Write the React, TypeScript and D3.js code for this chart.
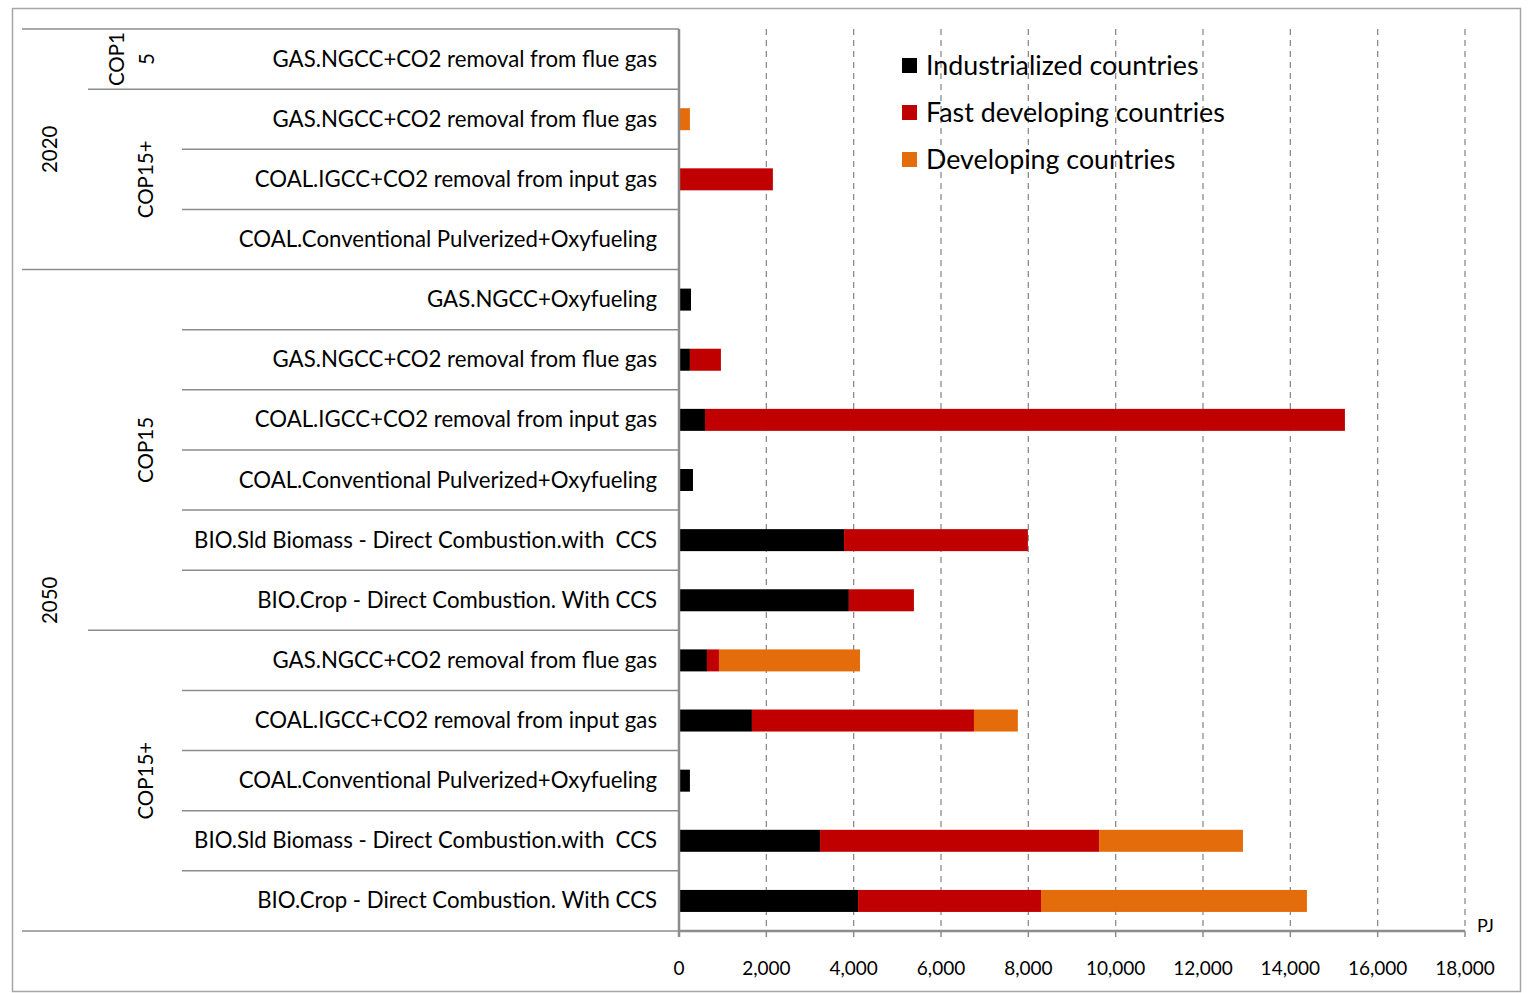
import React from "react";
import * as d3 from "d3";

const rowLabels = [
  "GAS.NGCC+CO2 removal from flue gas",
  "GAS.NGCC+CO2 removal from flue gas",
  "COAL.IGCC+CO2 removal from input gas",
  "COAL.Conventional Pulverized+Oxyfueling",
  "GAS.NGCC+Oxyfueling",
  "GAS.NGCC+CO2 removal from flue gas",
  "COAL.IGCC+CO2 removal from input gas",
  "COAL.Conventional Pulverized+Oxyfueling",
  "BIO.Sld Biomass - Direct Combustion.with  CCS",
  "BIO.Crop - Direct Combustion. With CCS",
  "GAS.NGCC+CO2 removal from flue gas",
  "COAL.IGCC+CO2 removal from input gas",
  "COAL.Conventional Pulverized+Oxyfueling",
  "BIO.Sld Biomass - Direct Combustion.with  CCS",
  "BIO.Crop - Direct Combustion. With CCS",
];
const industrialized = [0, 0, 0, 0, 275, 250, 595, 320, 3780, 3890, 640, 1670, 250, 3230, 4100];
const fastDeveloping = [0, 0, 2150, 0, 0, 710, 14655, 0, 4210, 1490, 275, 5085, 0, 6390, 4190];
const developing = [0, 250, 0, 0, 0, 0, 0, 0, 0, 0, 3230, 1005, 0, 3295, 6090];

const seriesNames = ["Industrialized countries", "Fast developing countries", "Developing countries"];
const seriesColors = ["#000000", "#C00000", "#E46C0A"];

// groups: [label, startRow, endRow(exclusive)]
const years: [string, number, number][] = [["2020", 0, 4], ["2050", 4, 15]];
const scenarios: [string[], number, number][] = [
  [["COP1", "5"], 0, 1],
  [["COP15+"], 1, 4],
  [["COP15"], 4, 10],
  [["COP15+"], 10, 15],
];
const xTicks = [0, 2000, 4000, 6000, 8000, 10000, 12000, 14000, 16000, 18000];

const FONT = "Lato, 'Open Sans', sans-serif";

export default function App() {
  const W = 1529, H = 993;
  const x0 = 679, x1 = 1465, yTop = 29, yBot = 931;
  const x = d3.scaleLinear().domain([0, 18000]).range([x0, x1]);
  const idx = d3.range(rowLabels.length);
  const y = d3.scaleBand<number>().domain(idx).range([yTop, yBot]).paddingInner(0).paddingOuter(0);
  const bw = y.bandwidth();
  const barH = 22;
  const data = idx.map((i) => ({ i, a: industrialized[i], b: fastDeveloping[i], c: developing[i] }));
  const stack = d3.stack<any>().keys(["a", "b", "c"])(data);
  const grey = "#8c8c8c";

  const yearStarts = new Set(years.map((g) => g[1]));
  const scenStarts = new Set(scenarios.map((g) => g[1]));
  const lines = d3.range(0, rowLabels.length + 1).map((r) => {
    let left = 182;
    if (r === 0 || r === rowLabels.length || yearStarts.has(r)) left = 22;
    else if (scenStarts.has(r)) left = 88;
    return { r, left };
  });

  return (
    <svg width={W} height={H} style={{ position: "absolute", left: 0, top: 0 }}>
      <rect x={0} y={0} width={W} height={H} fill="#fff" />
      <rect x={12.5} y={8.5} width={1508} height={983} fill="none" stroke="#a6a6a6" strokeWidth={1.5} />
      {xTicks.slice(1).map((t) => (
        <line key={t} x1={x(t)} x2={x(t)} y1={yTop} y2={yBot} stroke="#8c8c8c" strokeWidth={1.3} strokeDasharray="6,5" />
      ))}
      {lines.map(({ r, left }) => {
        const yy = r === rowLabels.length ? yBot : (y(r) as number);
        return <line key={r} x1={left} x2={x0} y1={yy} y2={yy} stroke={grey} strokeWidth={1.5} />;
      })}
      {stack.map((s, si) =>
        s.map((d, j) =>
          d[1] - d[0] > 0 ? (
            <rect
              key={si + "-" + j}
              x={x(d[0])}
              y={(y(j) as number) + bw / 2 - barH / 2}
              width={x(d[1]) - x(d[0])}
              height={barH}
              fill={seriesColors[si]}
            />
          ) : null
        )
      )}
      <line x1={x0} x2={x1} y1={yBot} y2={yBot} stroke={grey} strokeWidth={2.5} />
      <line x1={x0} x2={x0} y1={yTop} y2={yBot + 6} stroke={grey} strokeWidth={2.5} />
      {xTicks.map((t) => (
        <g key={"t" + t}>
          <line x1={x(t)} x2={x(t)} y1={yBot} y2={yBot + 6} stroke={grey} strokeWidth={1.5} />
          <text x={x(t)} y={975} textAnchor="middle" fontFamily={FONT} fontSize={19} fill="#000">
            {d3.format(",")(t)}
          </text>
        </g>
      ))}
      <text x={1477} y={932} fontFamily={FONT} fontSize={18} fill="#000">PJ</text>
      {rowLabels.map((l, i) => (
        <text key={"l" + i} x={657} y={(y(i) as number) + bw / 2 + 7.5} textAnchor="end" fontFamily={FONT} fontSize={22.2} fill="#000" style={{ whiteSpace: "pre" }}>
          {l}
        </text>
      ))}
      {years.map(([lab, s, e]) => {
        const cy = ((y(s) as number) + (e === rowLabels.length ? yBot : (y(e) as number))) / 2;
        return (
          <text key={lab} transform={`translate(57,${cy}) rotate(-90)`} textAnchor="middle" fontFamily={FONT} fontSize={20.5} fill="#000">
            {lab}
          </text>
        );
      })}
      {scenarios.map(([labs, s, e], k) => {
        const cy = ((y(s) as number) + (e === rowLabels.length ? yBot : (y(e) as number))) / 2;
        return labs.map((lab, li) => (
          <text
            key={k + "-" + li}
            transform={`translate(${labs.length === 1 ? 153 : 124 + li * 30},${cy}) rotate(-90)`}
            textAnchor="middle"
            fontFamily={FONT}
            fontSize={20.5}
            fill="#000"
          >
            {lab}
          </text>
        ));
      })}
      {seriesNames.map((n, i) => (
        <g key={n}>
          <rect x={902} y={58 + i * 47} width={15} height={15} fill={seriesColors[i]} />
          <text x={926} y={75 + i * 47} fontFamily={FONT} fontSize={26.8} fill="#000">{n}</text>
        </g>
      ))}
    </svg>
  );
}
